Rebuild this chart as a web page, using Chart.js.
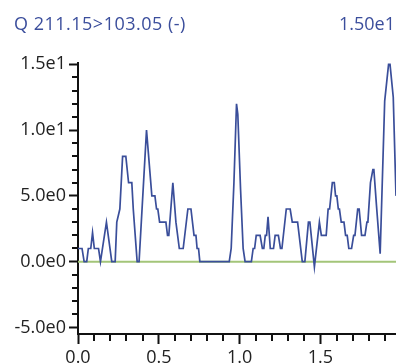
<!DOCTYPE html>
<html>
<head>
<meta charset="utf-8">
<script src="https://cdn.jsdelivr.net/npm/chart.js@4/dist/chart.umd.min.js"></script>
<style>
html,body{margin:0;padding:0;background:#fff;overflow:hidden}
#wrap{position:relative;width:396px;height:363px}
#c{position:absolute;left:0;top:0}
.t{position:absolute;top:14px;font-family:"Open Sans";font-size:18px;line-height:18px;color:#3b4e9c;white-space:nowrap}
#tl{left:14px;letter-spacing:0.5px}
#tr{right:1px}
</style>
</head>
<body>
<div id="wrap">
<canvas id="c" width="396" height="363" style="width:396px;height:363px"></canvas>
<div class="t" id="tl"></div>
<div class="t" id="tr"></div>
</div>
<script>
// ---- data (time in minutes, intensity) ----
const titleText = 'Q 211.15>103.05 (-)';
const times = [0, 0.025, 0.038, 0.054, 0.064, 0.079, 0.090, 0.101, 0.127, 0.139,
  0.176, 0.209, 0.230, 0.240, 0.259, 0.276, 0.296, 0.313, 0.333, 0.342,
  0.366, 0.378, 0.424, 0.457, 0.476, 0.486, 0.494, 0.505, 0.544, 0.554,
  0.562, 0.587, 0.606, 0.627, 0.651, 0.680, 0.699, 0.718, 0.730, 0.737,
  0.746, 0.754, 0.936, 0.948, 0.965, 0.981, 0.989, 1.006, 1.022, 1.034,
  1.073, 1.084, 1.093, 1.103, 1.127, 1.141, 1.150, 1.159, 1.167, 1.176,
  1.190, 1.210, 1.220, 1.240, 1.253, 1.262, 1.289, 1.313, 1.326, 1.359,
  1.388, 1.404, 1.426, 1.435, 1.463, 1.494, 1.506, 1.536, 1.548, 1.557,
  1.574, 1.586, 1.594, 1.602, 1.611, 1.618, 1.629, 1.646, 1.656, 1.666,
  1.676, 1.693, 1.706, 1.714, 1.731, 1.740, 1.755, 1.776, 1.788, 1.794,
  1.810, 1.825, 1.831, 1.847, 1.870, 1.898, 1.922, 1.931, 1.951, 1.968];
const intensities = [1, 1, 0, 0, 1, 1, 2.2, 1, 1, 0,
  3, 0, 0, 3, 4, 8, 8, 6, 6, 4,
  0, 0, 10, 5, 5, 4, 4, 3, 3, 2,
  2, 6, 3, 1, 1, 4, 4, 2, 2, 1,
  1, 0, 0, 1, 6, 12, 11.2, 5.5, 1, 0,
  0, 1, 1, 2, 2, 1, 1, 2, 2, 3.4,
  1, 1, 2, 2, 1, 1, 4, 4, 3, 3,
  0, 0, 3, 3, -0.4, 3, 2, 2, 4, 4,
  6, 6, 5, 5, 4, 4, 3, 3, 2, 2,
  1, 1, 2, 2, 4, 4, 2, 2, 3, 3,
  6, 7, 7, 4.3, 0.6, 12.2, 15, 15, 12.5, 5];
const baselineTimes = [0, 1.968];
const baselineValues = [0, 0];
const xMajorTicks = [0, 0.5, 1.0, 1.5];
const xMinorTicks = [0.1, 0.2, 0.3, 0.4, 0.6, 0.7, 0.8, 0.9, 1.1, 1.2, 1.3, 1.4, 1.6, 1.7, 1.8, 1.9];
const yMajorTicks = [-5, 0, 5, 10, 15];
const yMinorTicks = [-4, -3, -2, -1, 1, 2, 3, 4, 6, 7, 8, 9, 11, 12, 13, 14];
const xRange = [0, 1.968];
const yRange = [-5.5, 15.1];

const fmtExp = (v, d) => Number(v).toExponential(d).replace('e+', 'e');

document.getElementById('tl').textContent = titleText;
document.getElementById('tr').textContent = fmtExp(Math.max(...intensities), 2);

const axisColor = '#111';
const minorTicksPlugin = {
  id: 'minorTicks',
  afterDraw(chart) {
    const { ctx } = chart;
    const x = chart.scales.x, y = chart.scales.y;
    ctx.save();
    ctx.strokeStyle = axisColor;
    ctx.lineWidth = 2;
    ctx.beginPath();
    yMinorTicks.forEach(v => {
      const p = Math.round(y.getPixelForValue(v));
      ctx.moveTo(y.right - 6, p); ctx.lineTo(y.right, p);
    });
    xMinorTicks.forEach(v => {
      const p = Math.round(x.getPixelForValue(v));
      ctx.moveTo(p, x.top); ctx.lineTo(p, x.top + 7);
    });
    ctx.stroke();
    ctx.restore();
  }
};

Chart.defaults.font.family = '"Open Sans"';
Chart.defaults.font.size = 18;
Chart.defaults.color = '#222';

new Chart(document.getElementById('c'), {
  type: 'line',
  data: {
    datasets: [
      {
        label: 'baseline',
        data: baselineTimes.map((t, i) => ({ x: t, y: baselineValues[i] })),
        borderColor: '#a3c579',
        borderWidth: 2,
        pointRadius: 0,
        order: 2
      },
      {
        label: 'trace',
        data: times.map((t, i) => ({ x: t, y: intensities[i] })),
        borderColor: '#3a4e9a',
        borderWidth: 1.7,
        pointRadius: 0,
        tension: 0,
        order: 1
      }
    ]
  },
  options: {
    responsive: false,
    animation: false,
    events: [],
    layout: { padding: { left: 0, right: 0, top: 63, bottom: 0 } },
    plugins: { legend: { display: false }, title: { display: false }, tooltip: { enabled: false } },
    scales: {
      x: {
        type: 'linear',
        min: xRange[0], max: xRange[1],
        afterBuildTicks: s => { s.ticks = xMajorTicks.map(v => ({ value: v })); },
        afterFit: s => { s.height = 29; },
        ticks: { callback: v => Number(v).toFixed(1), padding: 3, maxRotation: 0, autoSkip: false, color: '#222' },
        grid: { drawOnChartArea: false, drawTicks: true, tickLength: 10, tickWidth: 2, tickColor: axisColor },
        border: { display: true, color: axisColor, width: 2 }
      },
      y: {
        type: 'linear',
        min: yRange[0], max: yRange[1],
        afterBuildTicks: s => { s.ticks = yMajorTicks.map(v => ({ value: v })); },
        afterFit: s => { s.width = 78; },
        ticks: { callback: v => fmtExp(v, 1), padding: 3, autoSkip: false, color: '#222' },
        grid: { drawOnChartArea: false, drawTicks: true, tickLength: 9, tickWidth: 2, tickColor: axisColor },
        border: { display: true, color: axisColor, width: 2 }
      }
    }
  },
  plugins: [minorTicksPlugin]
});
</script>
</body>
</html>
